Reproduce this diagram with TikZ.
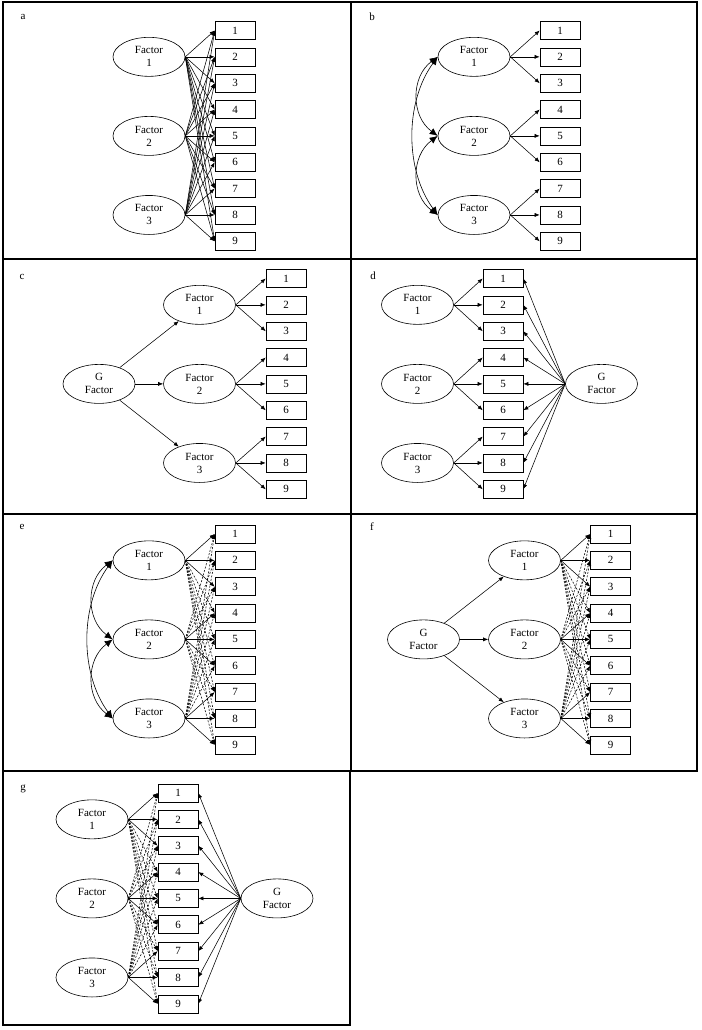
\documentclass[tikz,border=0pt]{standalone}
\usepackage{fontspec}
\setmainfont{Liberation Serif}
\usetikzlibrary{shapes.geometric,arrows.meta,calc}
\newcommand{\mkboxes}[3]{%
  \foreach \i in {1,...,9}{\node[obs] (#1\i) at (#2,{-(#3+26.35*(\i-1))}) {\i};}}
\newcommand{\mkfactors}[3]{%
  \foreach \k in {1,2,3}{\node[lat] (#1F\k) at (#2,{-(#3+26.35*(3*\k-2))}) {Factor\\\k};}}
% #2: 0 own only, 1 cross dashed, 2 cross solid
\newcommand{\mkload}[2]{%
  \foreach \k in {1,2,3}{\foreach \i in {1,...,9}{%
    \pgfmathtruncatemacro\grp{(\i-1)/3+1}%
    \ifnum\grp=\k \draw[arr] (#1F\k.east) -- (#1\i.west);%
    \else\ifcase#2 \or \draw[arr,dsh] (#1F\k.east) -- (#1\i.west);%
      \or \draw[arr] (#1F\k.east) -- (#1\i.west);\fi\fi}}}
\newcommand{\mkcurves}[1]{%
  \draw[dbl] (#1F1.west) .. controls ($(#1F1.west)+(-27,-20)$) and ($(#1F2.west)+(-27,20)$) .. (#1F2.west);
  \draw[dbl] (#1F2.west) .. controls ($(#1F2.west)+(-27,-20)$) and ($(#1F3.west)+(-27,20)$) .. (#1F3.west);
  \draw[dbl] (#1F1.west) .. controls ($(#1F1.west)+(-33,-45)$) and ($(#1F3.west)+(-33,45)$) .. (#1F3.west);}
\newcommand{\mkgout}[1]{%
  \foreach \i in {1,...,9}{\draw[arr] (#1G.west) -- (#1\i.east);}}
\newcommand{\mkgin}[1]{%
  \foreach \k in {1,2,3}{\draw[arr] (#1G) -- (#1F\k);}}
\begin{document}
\begin{tikzpicture}[x=1pt,y=1pt,
  font=\fontsize{11}{13}\selectfont,
  lat/.style={draw,ellipse,minimum width=72pt,minimum height=39pt,inner sep=0pt,align=center,line width=0.6pt},
  obs/.style={draw,rectangle,minimum width=40pt,minimum height=18pt,inner sep=0pt,line width=0.6pt},
  arr/.style={-{Latex[length=5pt,width=4pt]},line width=0.55pt},
  dsh/.style={dash pattern=on 2pt off 1.5pt},
  dbl/.style={{Latex[length=8pt,width=7pt]}-{Latex[length=8pt,width=7pt]},line width=0.6pt},
  frame/.style={draw,line width=1.6pt},
  lbl/.style={inner sep=0pt}]
\useasboundingbox (0,0) rectangle (701,-1030);
% frames
\draw[frame] (3,-2) rectangle (351,-259);
\draw[frame] (351,-2) rectangle (697,-259);
\draw[frame] (3,-259) rectangle (351,-514);
\draw[frame] (351,-259) rectangle (697,-514);
\draw[frame] (3,-514) rectangle (351,-771);
\draw[frame] (351,-514) rectangle (697,-771);
\draw[frame] (3,-771) rectangle (350,-1025);
% panel a
\node[lbl] (la) at (23,-17) {a};
\mkboxes{a}{235}{30.5}
\mkfactors{a}{149}{30.5}
\mkload{a}{2}
% panel b
\node[lbl] (lb) at (372,-17) {b};
\mkboxes{b}{560}{30.5}
\mkfactors{b}{474}{30.5}
\mkload{b}{0}
\mkcurves{b}
% panel c
\node[lbl] (lc) at (22,-277) {c};
\mkboxes{c}{286}{278.5}
\mkfactors{c}{199.5}{278.5}
\node[lat] (cG) at (99,{-(278.5+26.35*4)}) {G\\Factor};
\mkload{c}{0}
\mkgin{c}
% panel d
\node[lbl] (ld) at (373,-276) {d};
\mkboxes{d}{503}{278.5}
\mkfactors{d}{417.5}{278.5}
\node[lat] (dG) at (601.5,{-(278.5+26.35*4)}) {G\\Factor};
\mkload{d}{0}
\mkgout{d}
% panel e
\node[lbl] (le) at (22,-527) {e};
\mkboxes{e}{235}{534}
\mkfactors{e}{149}{534}
\mkload{e}{1}
\mkcurves{e}
% panel f
\node[lbl] (lf) at (372,-527) {f};
\mkboxes{f}{610.5}{534}
\mkfactors{f}{524.5}{534}
\node[lat] (fG) at (423.5,{-(534+26.35*4)}) {G\\Factor};
\mkload{f}{1}
\mkgin{f}
% panel g
\node[lbl] (lg) at (23,-789) {g};
\mkboxes{g}{178}{793}
\mkfactors{g}{92}{793}
\node[lat] (gG) at (277,{-(793+26.35*4)}) {G\\Factor};
\mkload{g}{1}
\mkgout{g}
\end{tikzpicture}
\end{document}
